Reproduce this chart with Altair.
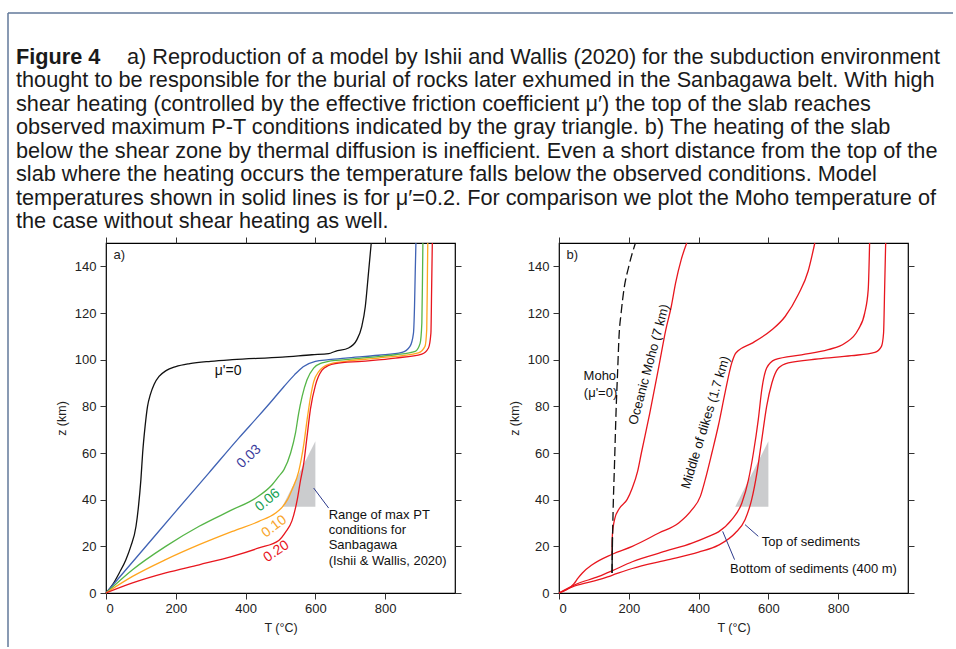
import altair as alt
import pandas as pd

# ---------------- caption text ----------------
CAPTION_BOLD = "Figure 4"
CAPTION_FIRST = "a) Reproduction of a model by Ishii and Wallis (2020) for the subduction environment"
CAPTION_REST = [
    "thought to be responsible for the burial of rocks later exhumed in the Sanbagawa belt. With high",
    "shear heating (controlled by the effective friction coefficient μ′) the top of the slab reaches",
    "observed maximum P-T conditions indicated by the gray triangle. b) The heating of the slab",
    "below the shear zone by thermal diffusion is inefficient. Even a short distance from the top of the",
    "slab where the heating occurs the temperature falls below the observed conditions. Model",
    "temperatures shown in solid lines is for μ′=0.2. For comparison we plot the Moho temperature of",
    "the case without shear heating as well.",
]

# ---------------- panel a: slab-top temperature for several mu' ----------------
A_NAMES = ["0", "0.03", "0.06", "0.10", "0.20"]
A_COLORS = ["#111111", "#3f62b4", "#55b547", "#ffa51f", "#e8161e"]
A_T = [
    [0, 19, 38, 57, 71, 86, 93, 100, 105, 112, 119, 127, 138, 152, 172, 200, 240, 300, 362, 505, 590, 638, 657, 695, 719, 733, 743, 752, 760],
    [0, 95, 200, 295, 381, 438, 476, 510, 540, 565, 600, 638, 686, 781, 848, 871, 881, 884, 886, 888],
    [0, 76, 171, 267, 362, 429, 476, 495, 510, 529, 543, 552, 562, 576, 595, 619, 638, 686, 733, 829, 886, 900, 905, 907, 908],
    [0, 76, 171, 267, 362, 438, 486, 505, 520, 533, 552, 567, 576, 586, 595, 610, 638, 686, 781, 895, 914, 919, 921, 922],
    [0, 76, 171, 267, 362, 438, 495, 514, 533, 548, 557, 567, 576, 586, 600, 619, 638, 657, 733, 829, 905, 924, 931, 933, 935],
]
A_Z = [
    [0, 3.6, 8.6, 14.3, 20, 28.6, 37, 48.6, 60, 71.4, 80, 85, 89.5, 92.8, 95.3, 97, 98.3, 99.3, 100, 101.1, 102.1, 102.6, 103.6, 105, 108.6, 114.3, 122.8, 137, 150],
    [0, 16.6, 35, 51.5, 66.5, 76, 82.5, 88.5, 93.5, 97, 99.3, 100, 100.7, 101.9, 103.1, 105.7, 111.4, 122.8, 137, 150],
    [0, 10, 20, 28.6, 35.7, 40.7, 46.4, 50, 52.9, 60, 68.6, 77, 84.3, 91.4, 96.4, 98.6, 99.3, 100, 100.7, 102.1, 103.6, 107, 115.7, 137, 150],
    [0, 7.1, 14.3, 20.7, 26.4, 30.7, 34.3, 36.8, 40, 44.3, 52, 64, 74, 84, 90.5, 95, 98, 99.3, 100.7, 102.9, 105.7, 112.9, 137, 150],
    [0, 4.3, 8.6, 12.1, 15.7, 19.3, 22.5, 26, 31, 40, 48, 56, 67, 79, 89, 95.5, 97.5, 98.3, 99.3, 100.7, 102.4, 105, 111.4, 130, 150],
]
A_LABELS = ["μ'=0", "0.03", "0.06", "0.10", "0.20"]
A_LABEL_T = [350, 410, 463, 482, 488]
A_LABEL_Z = [95.2, 58.5, 39.8, 28.5, 17.8]
A_LABEL_ANGLE = [0, 317, 320, 323, 326]
A_LABEL_COLORS = ["#111111", "#3b3b9c", "#15a050", "#f8a52a", "#e8161e"]

# gray triangle: observed max P-T range
TRI_T = [505, 600]
TRI_ZTOP = [37, 65]
TRI_ZBASE = [37, 37]

A_NOTE = ["Range of max PT", "conditions for", "Sanbagawa", "(Ishii & Wallis, 2020)"]
A_NOTE_T = 638
A_NOTE_Z = [33.6, 27.1, 20.7, 13.8]
A_LEADER = [595, 45, 638, 36.4]

# ---------------- panel b: temperatures at several depths in the slab (mu'=0.2) ----------------
B_NAMES = ["Top of sediments", "Bottom of sediments", "Middle of dikes", "Oceanic Moho"]
B_T = [
    [0, 45, 114, 152, 210, 305, 400, 457, 505, 533, 552, 567, 581, 595, 610, 629, 657, 743, 838, 905, 924, 930, 933, 936],
    [0, 45, 114, 152, 210, 305, 381, 429, 457, 495, 524, 543, 557, 571, 581, 595, 619, 695, 771, 819, 857, 876, 886, 890],
    [0, 43, 55, 67, 95, 152, 210, 286, 343, 381, 405, 419, 438, 457, 476, 495, 505, 515, 552, 610, 648, 686, 714, 733],
    [152, 153, 160, 172, 195, 210, 225, 236, 260, 286, 306, 322, 334, 350, 366],
]
B_Z = [
    [0, 3, 5.7, 7.6, 10.5, 14, 17.5, 20.5, 25.7, 31.4, 40, 51.4, 65.7, 80, 90, 96.4, 98.6, 100.3, 101.7, 103.1, 105.7, 111.4, 130, 150],
    [0, 3.5, 7.1, 9.5, 13.4, 17.9, 21.4, 24.3, 26.2, 31.4, 38.6, 48.6, 60, 74.3, 87.1, 96.4, 100, 102.1, 104.3, 107, 112.8, 120, 130, 150],
    [0, 4, 6.5, 8.6, 12.1, 16.6, 20, 25.7, 30, 35.7, 41.4, 48.6, 60, 72, 86, 98.6, 102.5, 104, 107, 112.8, 118.5, 128, 138, 150],
    [16.6, 25, 32, 36, 40, 45, 52, 60, 77, 97, 112.8, 123, 132.8, 142.8, 150],
]
MOHO0_T = [152, 153, 155, 159, 164, 168, 172, 178, 186, 200, 219]
MOHO0_Z = [8.6, 20, 35, 55, 80, 95, 110, 120, 130, 140, 150]
MOHO0_BASE_T = [152, 153]
MOHO0_BASE_Z = [8.6, 24]

B_TEXTS = ["Moho", "(μ'=0)", "Oceanic Moho (7 km)", "Middle of dikes (1.7 km)"]
B_TEXT_T = [117, 119, 258, 420]
B_TEXT_Z = [92.9, 85.7, 97.9, 73.1]
B_TEXT_ANGLE = [0, 0, 285, 287]

B_NOTES = ["Top of sediments", "Bottom of sediments (400 m)"]
B_NOTE_T = [581, 490]
B_NOTE_Z = [21.9, 10.4]
B_LEADERS_T = [533, 469]
B_LEADERS_Z = [29.3, 26.4]
B_LEADERS_T2 = [571, 503]
B_LEADERS_Z2 = [24.3, 14.3]

X_TICKS = [0, 200, 400, 600, 800]
Y_TICKS = [0, 20, 40, 60, 80, 100, 120, 140]

FONT = "Liberation Sans"
CAP_FONT = "Liberation Sans"
W, H = 349, 350
LEADER_COLOR = "#2d3a8c"
INTERP = "monotone"

xs = alt.Scale(domain=[0, 1000], nice=False, zero=False)
ys = alt.Scale(domain=[0, 150], nice=False, zero=False)

axis_common = dict(domain=False, grid=False, tickSize=6, tickColor="#333333", tickWidth=1,
                   labelFont=FONT, labelFontSize=13, labelColor="#222222",
                   titleFont=FONT, titleFontSize=12.5, titleFontWeight="normal", titleColor="#222222")

x_bottom = alt.Axis(values=X_TICKS, title="T (°C)", orient="bottom", labelPadding=3, titlePadding=6, **axis_common)
y_left = alt.Axis(values=Y_TICKS, title="z (km)", orient="left", labelPadding=4, titlePadding=6, **axis_common)
x_top = alt.Axis(values=X_TICKS, title=None, orient="top", labels=False, domain=False, grid=False,
                 tickSize=6, tickColor="#333333")
y_right = alt.Axis(values=Y_TICKS, title=None, orient="right", labels=False, domain=False, grid=False,
                   tickSize=6, tickColor="#333333")


def series_df(names, Ts, Zs):
    rows = []
    for n, ts, zs in zip(names, Ts, Zs):
        for i, (t, z) in enumerate(zip(ts, zs)):
            rows.append({"s": n, "T": t, "z": z, "i": i})
    return pd.DataFrame(rows)


tri_df = pd.DataFrame({"T": TRI_T, "z": TRI_ZTOP, "z0": TRI_ZBASE})


def triangle_layer():
    return alt.Chart(tri_df).mark_area(color="#cbccce", opacity=1).encode(
        x=alt.X("T:Q", scale=xs, axis=x_top),
        y=alt.Y("z:Q", scale=ys, axis=y_right),
        y2="z0:Q",
    )


def letter_layer(letter):
    d = pd.DataFrame({"T": [38], "z": [145], "t": [letter]})
    return alt.Chart(d).mark_text(font=FONT, fontSize=13, color="#222222", align="center", baseline="middle").encode(
        x=alt.X("T:Q", scale=xs, axis=None), y=alt.Y("z:Q", scale=ys, axis=None), text="t:N")


# ---------- panel a ----------
a_df = series_df(A_NAMES, A_T, A_Z)
a_curves = alt.Chart(a_df).mark_line(strokeWidth=1.3, interpolate=INTERP).encode(
    x=alt.X("T:Q", scale=xs, axis=x_bottom),
    y=alt.Y("z:Q", scale=ys, axis=y_left),
    color=alt.Color("s:N", scale=alt.Scale(domain=A_NAMES, range=A_COLORS), legend=None),
    detail="s:N",
    order="i:Q",
)
a_lab_df = pd.DataFrame({"t": A_LABELS, "T": A_LABEL_T, "z": A_LABEL_Z, "a": A_LABEL_ANGLE, "c": A_LABEL_COLORS})
a_labels = alt.Chart(a_lab_df).mark_text(font=FONT, fontSize=14, align="center", baseline="middle").encode(
    x=alt.X("T:Q", scale=xs, axis=None), y=alt.Y("z:Q", scale=ys, axis=None),
    text="t:N", angle=alt.Angle("a:Q", scale=None), color=alt.Color("c:N", scale=None))
a_lead_df = pd.DataFrame({"T": [A_LEADER[0]], "z": [A_LEADER[1]], "T2": [A_LEADER[2]], "z2": [A_LEADER[3]]})
a_leader = alt.Chart(a_lead_df).mark_rule(color=LEADER_COLOR, strokeWidth=1).encode(
    x=alt.X("T:Q", scale=xs, axis=None), y=alt.Y("z:Q", scale=ys, axis=None), x2="T2:Q", y2="z2:Q")
a_note_df = pd.DataFrame({"t": A_NOTE, "T": [A_NOTE_T] * len(A_NOTE), "z": A_NOTE_Z})
a_note = alt.Chart(a_note_df).mark_text(font=FONT, fontSize=13, color="#111111", align="left", baseline="middle").encode(
    x=alt.X("T:Q", scale=xs, axis=None), y=alt.Y("z:Q", scale=ys, axis=None), text="t:N")

panel_a = alt.layer(triangle_layer(), a_curves, a_labels, a_leader, a_note, letter_layer("a)")).resolve_axis(
    x="independent", y="independent").properties(width=W, height=H, view=alt.ViewBackground(stroke="black", strokeWidth=1.2))

# ---------- panel b ----------
b_df = series_df(B_NAMES, B_T, B_Z)
b_curves = alt.Chart(b_df).mark_line(strokeWidth=1.3, color="#e8161e", interpolate=INTERP).encode(
    x=alt.X("T:Q", scale=xs, axis=x_bottom),
    y=alt.Y("z:Q", scale=ys, axis=y_left),
    detail="s:N",
    order="i:Q",
)
moho_df = pd.DataFrame({"T": MOHO0_T, "z": MOHO0_Z, "i": range(len(MOHO0_T))})
b_moho = alt.Chart(moho_df).mark_line(strokeWidth=1.3, color="#111111", strokeDash=[9, 4], interpolate=INTERP).encode(
    x=alt.X("T:Q", scale=xs, axis=None), y=alt.Y("z:Q", scale=ys, axis=None), order="i:Q")
mohob_df = pd.DataFrame({"T": MOHO0_BASE_T, "z": MOHO0_BASE_Z, "i": range(len(MOHO0_BASE_T))})
b_moho_base = alt.Chart(mohob_df).mark_line(strokeWidth=1.3, color="#111111").encode(
    x=alt.X("T:Q", scale=xs, axis=None), y=alt.Y("z:Q", scale=ys, axis=None), order="i:Q")
b_txt_df = pd.DataFrame({"t": B_TEXTS, "T": B_TEXT_T, "z": B_TEXT_Z, "a": B_TEXT_ANGLE})
b_texts = alt.Chart(b_txt_df).mark_text(font=FONT, fontSize=13, color="#111111", align="center", baseline="middle").encode(
    x=alt.X("T:Q", scale=xs, axis=None), y=alt.Y("z:Q", scale=ys, axis=None),
    text="t:N", angle=alt.Angle("a:Q", scale=None))
b_note_df = pd.DataFrame({"t": B_NOTES, "T": B_NOTE_T, "z": B_NOTE_Z})
b_notes = alt.Chart(b_note_df).mark_text(font=FONT, fontSize=13, color="#111111", align="left", baseline="middle").encode(
    x=alt.X("T:Q", scale=xs, axis=None), y=alt.Y("z:Q", scale=ys, axis=None), text="t:N")
b_lead_df = pd.DataFrame({"T": B_LEADERS_T, "z": B_LEADERS_Z, "T2": B_LEADERS_T2, "z2": B_LEADERS_Z2})
b_leaders = alt.Chart(b_lead_df).mark_rule(color=LEADER_COLOR, strokeWidth=1).encode(
    x=alt.X("T:Q", scale=xs, axis=None), y=alt.Y("z:Q", scale=ys, axis=None), x2="T2:Q", y2="z2:Q")

panel_b = alt.layer(triangle_layer(), b_curves, b_moho_base, b_moho, b_texts, b_leaders, b_notes,
                    letter_layer("b)")).resolve_axis(
    x="independent", y="independent").properties(width=W, height=H, view=alt.ViewBackground(stroke="black", strokeWidth=1.2))

# ---------- caption ----------
CAP_H = 164
cap_first = pd.DataFrame({"line": [0], "t": [CAPTION_FIRST]})
cap_bold = pd.DataFrame({"line": [0], "t": [CAPTION_BOLD]})
cap_rest = pd.DataFrame({"line": list(range(1, len(CAPTION_REST) + 1)), "t": CAPTION_REST})
cy = alt.Scale(domain=[0, 7], reverse=True, nice=False, zero=False)
cap_size = 21.7
c1 = alt.Chart(cap_bold).mark_text(font=CAP_FONT, fontSize=cap_size, fontWeight="bold", color="#1a1a1a",
                                   align="left", baseline="middle").encode(
    x=alt.value(-90), y=alt.Y("line:Q", scale=cy, axis=None), text="t:N")
c2 = alt.Chart(cap_first).mark_text(font=CAP_FONT, fontSize=cap_size, color="#1a1a1a",
                                    align="left", baseline="middle").encode(
    x=alt.value(21), y=alt.Y("line:Q", scale=cy, axis=None), text="t:N")
c3 = alt.Chart(cap_rest).mark_text(font=CAP_FONT, fontSize=cap_size, color="#1a1a1a",
                                   align="left", baseline="middle").encode(
    x=alt.value(-90), y=alt.Y("line:Q", scale=cy, axis=None), text="t:N")
frame_top = alt.Chart(cap_bold).mark_rule(color="#62799a", strokeWidth=1.5).encode(
    x=alt.value(-98), x2=alt.value(847), y=alt.value(-44))
frame_left = alt.Chart(cap_bold).mark_rule(color="#62799a", strokeWidth=1.5).encode(
    x=alt.value(-98), y=alt.value(-44), y2=alt.value(590))
caption = alt.layer(frame_top, frame_left, c1, c2, c3).properties(
    width=740, height=CAP_H, view=alt.ViewBackground(stroke="transparent"))

chart = alt.vconcat(
    caption,
    alt.hconcat(panel_a, panel_b, spacing=104, bounds="flush"),
    spacing=22, bounds="flush",
).properties(
    padding={"left": 6, "top": 11, "right": 0, "bottom": 0},
    background="white",
).configure(font=FONT, view=alt.ViewConfig(stroke="transparent"))

chart.save("out.html", embed_options={"renderer": "svg", "actions": False})
